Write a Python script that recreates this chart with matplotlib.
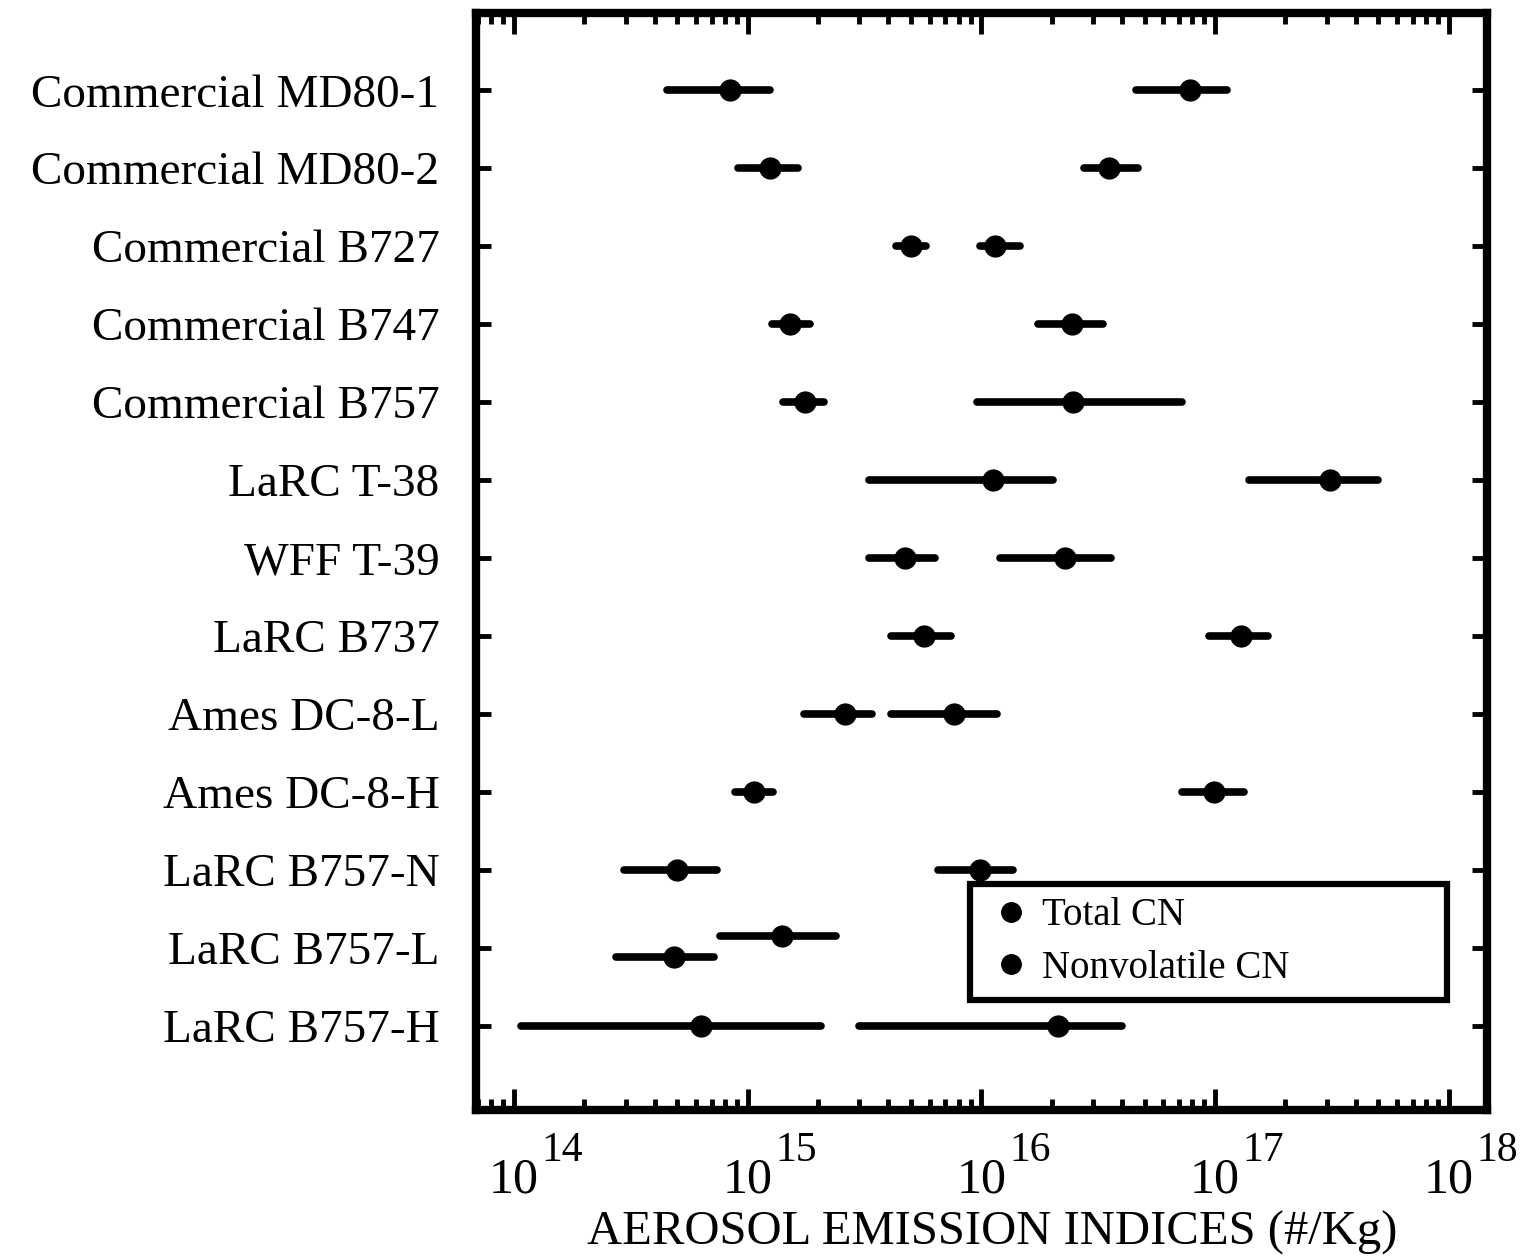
import matplotlib
matplotlib.use("Agg")
import matplotlib.pyplot as plt
import matplotlib.transforms as mtransforms
from matplotlib.lines import Line2D
import numpy as np

plt.rcParams['font.family'] = ['Liberation Serif', 'DejaVu Serif']

categories = ["Commercial MD80-1", "Commercial MD80-2", "Commercial B727",
              "Commercial B747", "Commercial B757", "LaRC T-38", "WFF T-39",
              "LaRC B737", "Ames DC-8-L", "Ames DC-8-H", "LaRC B757-N",
              "LaRC B757-L", "LaRC B757-H"]

# Nonvolatile CN (left group)
nonvol = [8.4e14, 1.24e15, 5.0e15, 1.51e15, 1.75e15, 1.12e16, 4.7e15,
          5.7e15, 2.6e15, 1.06e15, 5.0e14, 4.85e14, 6.3e14]
nonvol_lo = [4.5e14, 9.1e14, 4.3e15, 1.27e15, 1.41e15, 3.3e15, 3.3e15,
             4.1e15, 1.74e15, 8.8e14, 2.94e14, 2.74e14, 1.07e14]
nonvol_hi = [1.24e15, 1.64e15, 5.8e15, 1.85e15, 2.13e15, 2.03e16, 6.3e15,
             7.4e15, 3.4e15, 1.28e15, 7.4e14, 7.2e14, 2.06e15]

# Total CN (right group)
total = [7.8e16, 3.5e16, 1.14e16, 2.43e16, 2.47e16, 3.1e17, 2.28e16,
         1.29e17, 7.6e15, 9.9e16, 9.9e15, 1.40e15, 2.12e16]
total_lo = [4.6e16, 2.74e16, 9.9e15, 1.75e16, 9.6e15, 1.39e17, 1.2e16,
            9.4e16, 4.1e15, 7.2e16, 6.5e15, 7.6e14, 3.0e15]
total_hi = [1.12e17, 4.7e16, 1.46e16, 3.3e16, 7.2e16, 5.0e17, 3.6e16,
            1.69e17, 1.17e16, 1.33e17, 1.37e16, 2.39e15, 4.0e16]

x_ticks = [1e14, 1e15, 1e16, 1e17, 1e18]
x_exponents = ["14", "15", "16", "17", "18"]

fig = plt.figure(figsize=(15.33, 12.58), dpi=100)
ax = fig.add_axes([0.3102, 0.1176, 0.660, 0.872])

ypos = np.arange(len(categories), dtype=float)
y_nonvol = ypos.copy()
y_total = ypos.copy()
y_nonvol[11] += 0.12
y_total[11] -= 0.15

def draw(vals, lo, hi, yy, label):
    v = np.array(vals); l = np.array(lo); h = np.array(hi)
    eb = ax.errorbar(v, yy, xerr=[v - l, h - v], fmt='o', color='black',
                     ms=15, elinewidth=5.5, capsize=0, label=label)
    for lc in eb[2]:
        lc.set_capstyle('round')
    return eb

draw(total, total_lo, total_hi, y_total, "Total CN")
draw(nonvol, nonvol_lo, nonvol_hi, y_nonvol, "Nonvolatile CN")

ax.set_xscale('log')
ax.set_xlim(10**13.835, 10**18.165)
ax.set_ylim(13.08, -0.99)
ax.set_xticks(x_ticks)
ax.set_yticks(ypos)
ax.set_yticklabels(categories, fontsize=34)
ax.xaxis.set_minor_locator(matplotlib.ticker.LogLocator(base=10, subs=np.arange(2, 10)))
ax.xaxis.set_minor_formatter(matplotlib.ticker.NullFormatter())

ax.tick_params(axis='both', which='major', direction='in', top=True, right=True,
               width=3.5, length=15)
ax.tick_params(axis='x', which='minor', direction='in', top=True, width=3.5, length=8)
ax.tick_params(axis='x', which='major', labelbottom=False)
ax.tick_params(axis='y', which='major', length=11, pad=26)

# x tick labels as 10 with a large raised exponent
base_tr = ax.get_xaxis_transform()
tr_base = mtransforms.offset_copy(base_tr, fig=fig, x=0, y=-59, units='points')
tr_exp = mtransforms.offset_copy(base_tr, fig=fig, x=20, y=-37, units='points')
for t, e in zip(x_ticks, x_exponents):
    ax.text(t, 0, "10", transform=tr_base, ha='center', va='baseline', fontsize=36)
    ax.text(t, 0, e, transform=tr_exp, ha='left', va='baseline', fontsize=30)

for s in ax.spines.values():
    s.set_linewidth(6)

ax.set_xlabel("AEROSOL EMISSION INDICES (#/Kg)", fontsize=35)
ax.xaxis.set_label_coords(0.511, -0.092)

labels = ["Total CN", "Nonvolatile CN"]
lh = [Line2D([], [], marker='o', color='black', linestyle='none', ms=14) for _ in labels]
leg = ax.legend(lh, labels, loc='lower left', bbox_to_anchor=(0.489, 0.10, 0.471, 0.11),
                mode='expand', fontsize=28, frameon=True, fancybox=False, framealpha=1,
                handlelength=1.4, handletextpad=0.1, borderpad=0.35, labelspacing=0.4,
                borderaxespad=0)
leg.get_frame().set_edgecolor('black')
leg.get_frame().set_linewidth(4.5)

fig.savefig("out.png", dpi=100)
